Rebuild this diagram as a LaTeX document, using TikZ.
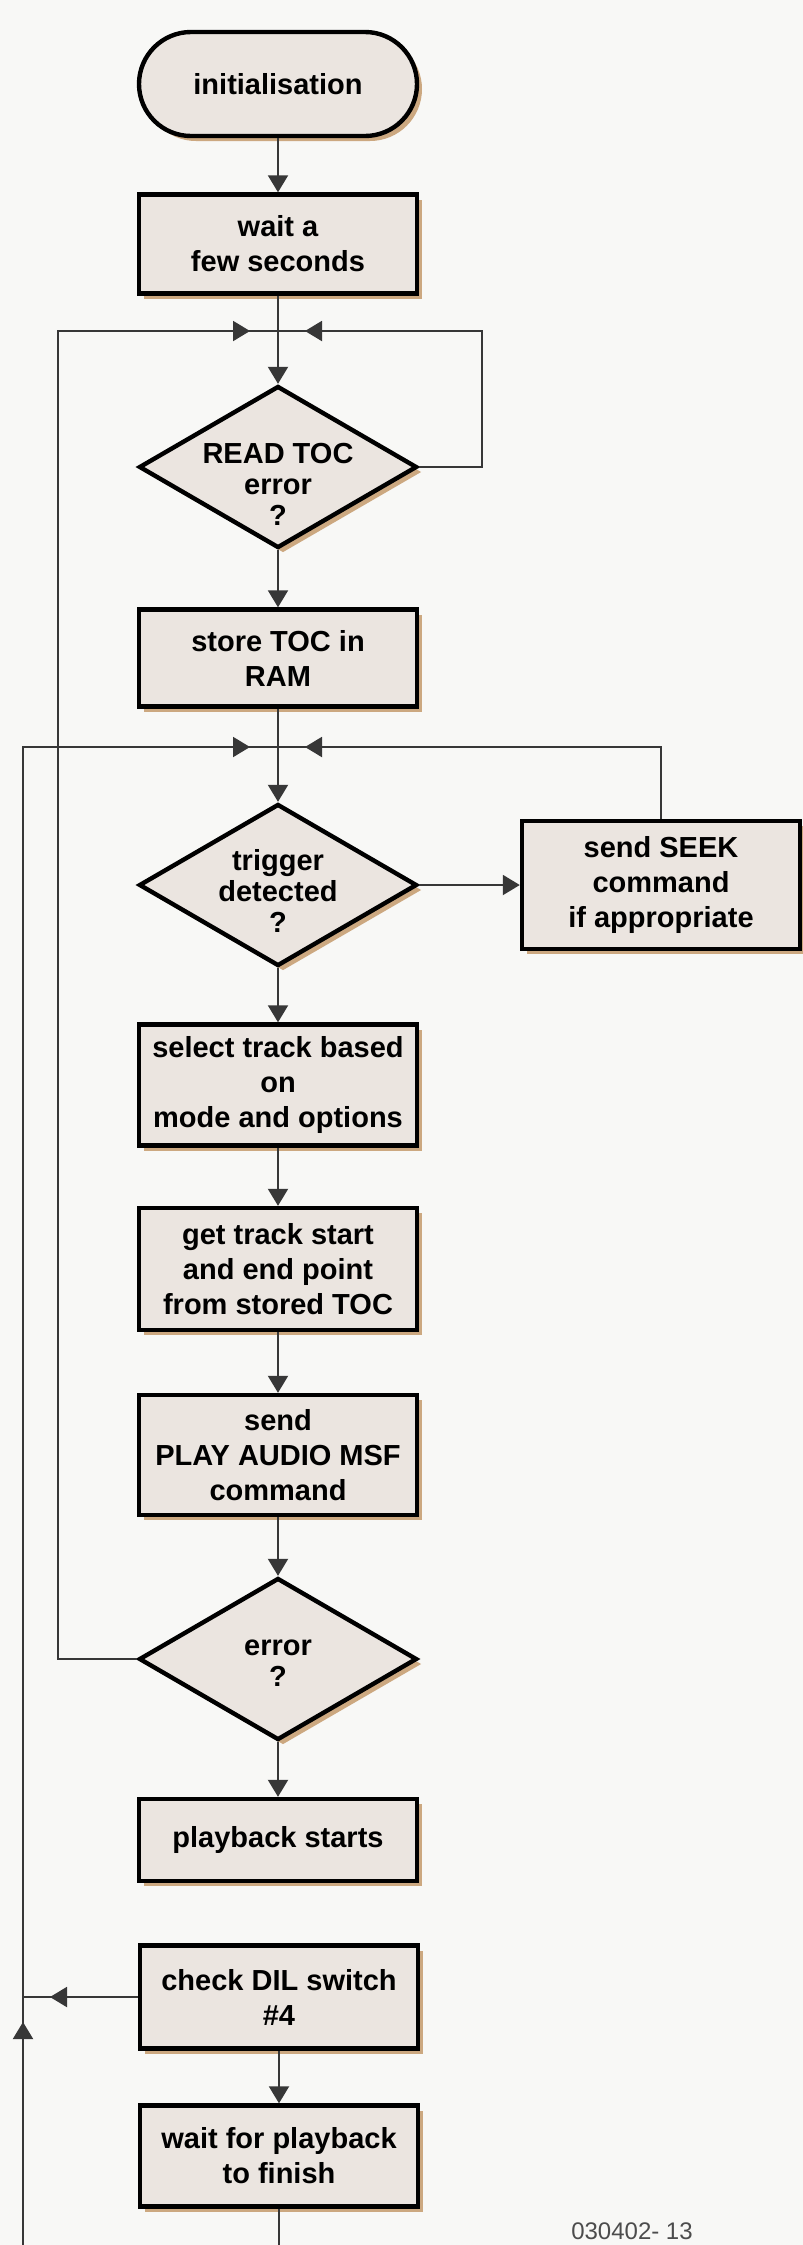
\documentclass[tikz,border=0pt]{standalone}
\usepackage{fontspec}
\setmainfont{Liberation Sans}
\usepackage{tikz}
\usetikzlibrary{arrows.meta,shapes.geometric,shadows,decorations.markings}
\usepackage{xcolor}
\definecolor{boxfill}{RGB}{235,229,224}
\definecolor{shadowtan}{RGB}{204,168,128}
\definecolor{paper}{RGB}{248,248,246}
\definecolor{wirecol}{RGB}{55,55,55}
\newcommand{\dtext}[2]{\raisebox{#1}[0pt][0pt]{\begin{tabular}{@{}c@{}}#2\end{tabular}}}

\begin{document}
\begin{tikzpicture}[x=0.5pt, y=-0.5pt,
    every node/.style={font=\fontsize{14.5}{17.5}\selectfont\bfseries, align=center},
    stepbox/.style={rectangle, draw=black, line width=2.2pt, fill=boxfill,
      minimum width=139pt, inner sep=2pt,
      drop shadow={shadow xshift=2.5pt, shadow yshift=-2.5pt, fill=shadowtan, opacity=1}},
    startstop/.style={stepbox, rounded corners=26pt},
    decision/.style={diamond, draw=black, line width=2.2pt, fill=boxfill,
      minimum width=139pt, minimum height=81pt, inner sep=0pt,
      font=\fontsize{14.5}{15.5}\selectfont\bfseries,
      drop shadow={shadow xshift=2.5pt, shadow yshift=-2.5pt, fill=shadowtan, opacity=1}},
    flow/.style={draw=wirecol, line width=1pt},
    arr/.style={flow, -{Triangle[length=8.5pt,width=10pt]}},
    midtip/.style={postaction={decorate, decoration={markings,
      mark=at position #1 with {\arrow{Triangle[length=8.5pt,width=10pt]}}}}}]

  \useasboundingbox (0,0) rectangle (803,2245);
  \fill[paper] (0,0) rectangle (803,2245);

  % main column
  \node[startstop, minimum height=52pt] (init) at (278,84) {initialisation};
  \node[stepbox, minimum height=49.5pt] (pause) at (278,244) {wait a\\few seconds};
  \node[decision] (toc) at (278,467) {\dtext{-14pt}{READ TOC\\error\\?}};
  \node[stepbox, minimum height=48.5pt] (store) at (278,658) {store TOC in\\RAM};
  \node[decision] (trig) at (278,885) {\dtext{-8.5pt}{trigger\\detected\\?}};
  \node[stepbox, minimum height=64pt] (seek) at (661,885) {send SEEK\\command\\if appropriate};
  \node[stepbox, minimum height=60.5pt] (select) at (278,1085) {select track based\\on\\mode and options};
  \node[stepbox, minimum height=61pt] (track) at (278,1269) {get track start\\and end point\\from stored TOC};
  \node[stepbox, minimum height=60pt] (play) at (278,1455) {send\\PLAY AUDIO MSF\\command};
  \node[decision] (err) at (278,1659) {\dtext{-6.5pt}{error\\?}};
  \node[stepbox, minimum height=41pt] (starts) at (278,1840) {playback starts};
  \node[stepbox, minimum height=51.5pt] (dil) at (279,1997) {check DIL switch\\\#4};
  \node[stepbox, minimum height=50.5pt] (finish) at (279,2156) {wait for playback\\to finish};

  \node[font=\fontsize{12}{14}\selectfont, text=black!70] (figno) at (632,2231) {030402- 13};

  % junctions and corners
  \coordinate (j1) at (278,331);
  \coordinate (j2) at (278,747);
  \coordinate (r1) at (482,467);
  \coordinate (l1) at (58,331);
  \coordinate (od) at (23,1997);
  \coordinate (ob) at (23,2245);
  \coordinate (fb) at (279,2245);

  % straight flow
  \draw[arr] (init) -- (pause);
  \draw[arr] (pause) -- (toc);
  \draw[arr] (toc) -- (store);
  \draw[arr] (store) -- (trig);
  \draw[arr] (trig) -- (seek);
  \draw[arr] (trig) -- (select);
  \draw[arr] (select) -- (track);
  \draw[arr] (track) -- (play);
  \draw[arr] (play) -- (err);
  \draw[arr] (err) -- (starts);
  \draw[arr] (dil) -- (finish);
  \draw[flow] (finish) -- (fb);

  % loops back
  \draw[flow, midtip=-13.5pt] (toc.east) -- (r1) |- (j1);
  \draw[flow, midtip=-14pt] (err.west) -| (l1) -- (j1);
  \draw[flow, midtip=-13.5pt] (seek.north) |- (j2);
  \draw[flow, midtip=111.5pt, midtip=-14pt] (ob) |- (j2);
  \draw[flow, midtip=-13.5pt] (dil.west) -- (od);
\end{tikzpicture}
\end{document}
